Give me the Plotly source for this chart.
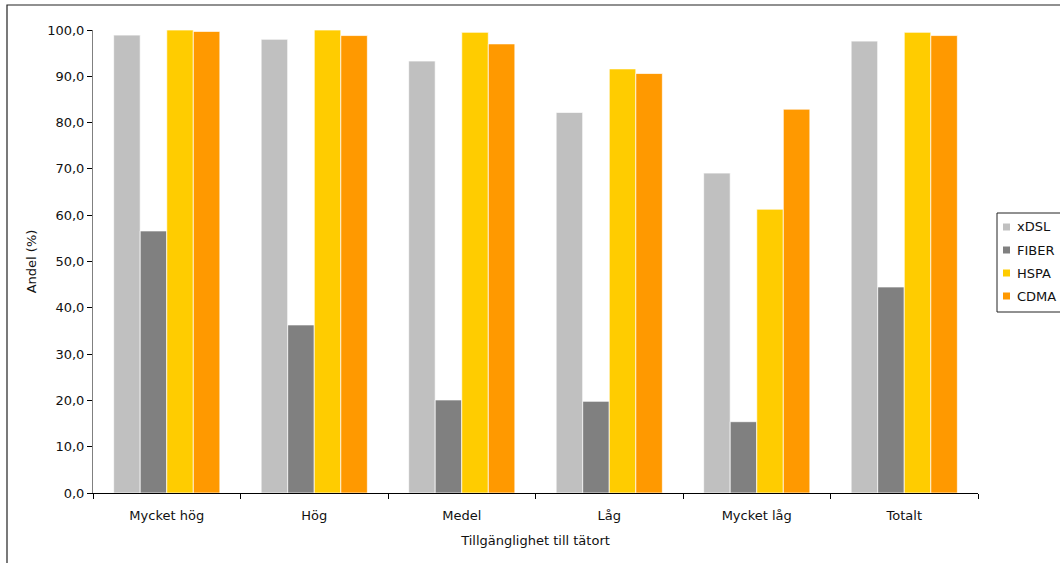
import plotly.graph_objects as go

categories = ["Mycket hög", "Hög", "Medel", "Låg", "Mycket låg", "Totalt"]
series_names = ["xDSL", "FIBER", "HSPA", "CDMA"]
xdsl = [98.9, 98.0, 93.3, 82.2, 69.1, 97.6]
fiber = [56.6, 36.3, 20.1, 19.8, 15.4, 44.5]
hspa = [100.0, 100.0, 99.5, 91.6, 61.3, 99.5]
cdma = [99.7, 98.8, 97.0, 90.6, 82.9, 98.8]
colors = ["#C0C0C0", "#808080", "#FFCC00", "#FF9900"]
y_ticks = [0, 10, 20, 30, 40, 50, 60, 70, 80, 90, 100]

W, H = 1060, 563
L, R, T, B = 93, 978, 30, 493

def px_x(p):
    return (p - L) / (R - L)

def px_y(p):
    return (B - p) / (B - T)

FONT = "DejaVu Sans"
fig = go.Figure()
for name, vals, col in zip(series_names, [xdsl, fiber, hspa, cdma], colors):
    fig.add_trace(go.Bar(
        x=categories, y=vals, name=name,
        marker=dict(color=col, line=dict(color="rgba(255,255,255,0.7)", width=1)),
        showlegend=False,
    ))

shapes = []
annotations = []
# outer frame
shapes.append(dict(type="rect", xref="paper", yref="paper",
                   x0=px_x(7), x1=px_x(1075), y0=px_y(580), y1=px_y(5),
                   line=dict(color="#222222", width=1.2), fillcolor="rgba(0,0,0,0)", layer="below"))
# custom legend box
shapes.append(dict(type="rect", xref="paper", yref="paper",
                   x0=px_x(997), x1=px_x(1075), y0=px_y(312), y1=px_y(213),
                   line=dict(color="#222222", width=1), fillcolor="white"))
for i, (name, col) in enumerate(zip(series_names, colors)):
    cy = 227 + 23 * i
    shapes.append(dict(type="rect", xref="paper", yref="paper",
                       x0=px_x(1003), x1=px_x(1010), y0=px_y(cy + 3.5), y1=px_y(cy - 3.5),
                       line=dict(width=0), fillcolor=col))
    annotations.append(dict(text=name, xref="paper", yref="paper",
                            x=px_x(1015), y=px_y(cy), xanchor="left", yanchor="middle",
                            showarrow=False, font=dict(family=FONT, size=13, color="#111111")))

fig.update_layout(
    width=W, height=H,
    margin=dict(l=L, r=W - R, t=T, b=H - B, autoexpand=False),
    paper_bgcolor="white", plot_bgcolor="white",
    barmode="group", bargap=0.28, bargroupgap=0.0,
    separators=", ",
    font=dict(family=FONT, size=13, color="#111111"),
    shapes=shapes, annotations=annotations,
    showlegend=False,
)
fig.update_xaxes(
    showline=True, linecolor="black", linewidth=1,
    ticks="outside", ticklen=5, tickcolor="black", tickson="boundaries",
    ticklabelstandoff=10,
    showgrid=False, zeroline=False,
    title=dict(text="Tillgänglighet till tätort", font=dict(size=13), standoff=14),
)
fig.update_yaxes(
    range=[0, 100], tickvals=y_ticks, tickformat=".1f",
    showline=True, linecolor="#808080", linewidth=1,
    ticks="outside", ticklen=5, tickcolor="black",
    showgrid=False, zeroline=False,
    title=dict(text="Andel (%)", font=dict(size=13), standoff=7),
)
fig.write_html("out.html")
